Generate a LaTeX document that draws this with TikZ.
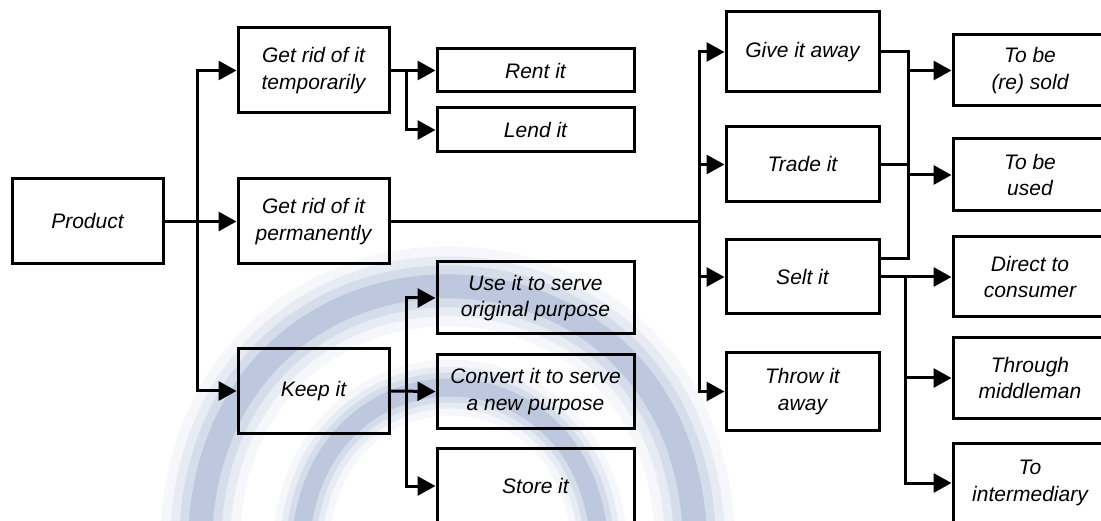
\documentclass[tikz,border=0pt]{standalone}
\usepackage{fontspec}
\setmainfont{Liberation Sans}
\usetikzlibrary{arrows.meta}
\definecolor{wm}{RGB}{95,120,180}
\begin{document}
\begin{tikzpicture}[x=1pt,y=-1pt,
  box/.style={draw=black, line width=3pt, align=center, inner sep=0pt,
    font=\itshape\fontsize{21}{26.5}\selectfont},
  conn/.style={line width=3pt},
  arr/.style={conn, -{Triangle[length=18pt,width=19pt]}}]
\useasboundingbox (0,0) rectangle (1101,521);
\clip (0,0) rectangle (1101,521);
\fill[white] (0,0) rectangle (1101,521);
% background watermark ring
\foreach \w/\v/\o in {80/56/0.06, 60/42/0.09, 42/30/0.13, 24/18/0.2}{
  \draw[wm, line width=\w pt, opacity=\o] (200,560) .. controls (190,195) and (705,195) .. (695,560);
  \draw[wm, line width=\v pt, opacity=\o] (300,560) .. controls (300,330) and (600,330) .. (600,560);
}
% column 1
\node[box, minimum width=151pt, minimum height=85pt] (prod) at (87.5,221.5) {Product};
% column 2
\node[box, minimum width=151pt, minimum height=85pt] (grt) at (313.5,70.5) {Get rid of it\\temporarily};
\node[box, minimum width=151pt, minimum height=85pt] (grp) at (313.5,221.5) {Get rid of it\\permanently};
\node[box, minimum width=151pt, minimum height=84pt] (keep) at (313.5,391) {Keep it};
% column 3
\node[box, minimum width=197pt, minimum height=43pt] (rent) at (535.5,70.5) {Rent it};
\node[box, minimum width=197pt, minimum height=44pt] (lend) at (535.5,130) {Lend it};
\node[box, minimum width=197pt, minimum height=72pt] (use) at (535.5,298) {Use it to serve\\original purpose};
\node[box, minimum width=197pt, minimum height=73pt] (conv) at (535.5,391.5) {Convert it to serve\\a new purpose};
\node[box, minimum width=197pt, minimum height=76pt] (store) at (535.5,486) {Store it};
% column 4
\node[box, minimum width=153pt, minimum height=80pt] (give) at (802.5,52) {Give it away};
\node[box, minimum width=153pt, minimum height=75pt] (trade) at (802.5,164.5) {Trade it};
\node[box, minimum width=153pt, minimum height=74pt] (selt) at (802.5,277) {Selt it};
\node[box, minimum width=153pt, minimum height=77pt] (throw) at (802.5,391.5) {Throw it\\away};
% column 5
\node[box, minimum width=154pt, minimum height=71pt] (sold) at (1030,70.5) {To be\\(re) sold};
\node[box, minimum width=154pt, minimum height=72pt] (used) at (1030,175) {To be\\used};
\node[box, minimum width=154pt, minimum height=80pt] (direct) at (1030,277) {Direct to\\consumer};
\node[box, minimum width=154pt, minimum height=80pt] (through) at (1030,378) {Through\\middleman};
\node[box, minimum width=154pt, minimum height=80pt] (inter) at (1030,483) {To\\intermediary};
% junctions
\coordinate (j1) at (197,221.5);
\coordinate (j2) at (406,70.5);
\coordinate (j3) at (699,221.5);
\coordinate (j4) at (406,391);
\coordinate (m1) at (908,52);
\coordinate (m2) at (908,259);
\coordinate (j5) at (905,277);
% connectors
\draw[arr] (prod.east) -- (grp.west);
\draw[arr] (j1) |- (grt.west);
\draw[arr] (j1) |- (keep.west);
\draw[arr] (grt.east) -- (rent.west);
\draw[arr] (j2) |- (lend.west);
\draw[conn] (grp.east) -- (j3);
\draw[arr] (j3) |- (give.west);
\draw[arr] (j3) |- (trade.west);
\draw[arr] (j3) |- (selt.west);
\draw[arr] (j3) |- (throw.west);
\draw[arr] (keep.east) -- (conv.west);
\draw[arr] (j4) |- (use.west);
\draw[arr] (j4) |- (store.west);
\draw[conn] (give.east) -- (m1) -- (m2) -- (selt.east |- m2);
\draw[conn] (trade.east) -- (trade.east -| m1);
\draw[arr] (m1 |- sold.west) -- (sold.west);
\draw[arr] (m1 |- used.west) -- (used.west);
\draw[arr] (selt.east) -- (direct.west);
\draw[arr] (j5) |- (through.west);
\draw[arr] (j5) |- (inter.west);
\end{tikzpicture}
\end{document}
